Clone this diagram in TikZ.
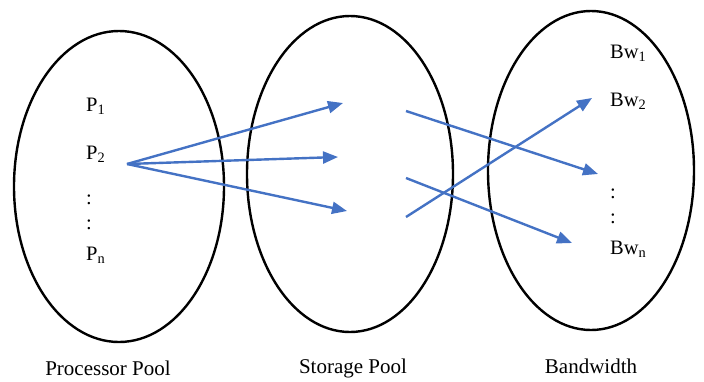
\documentclass[tikz,border=0pt]{standalone}
\usepackage{fontspec}
\setmainfont{Liberation Serif}
\usetikzlibrary{arrows.meta,shapes.geometric}
\definecolor{arrowblue}{RGB}{68,114,196}
\begin{document}
\begin{tikzpicture}[x=1pt,y=-1pt,
  pool/.style={draw=black,line width=2.4pt,ellipse,inner sep=0pt},
  lbl/.style={font=\fontsize{20.5}{24}\selectfont,inner sep=0pt,anchor=west},
  captext/.style={font=\fontsize{21}{24}\selectfont,inner sep=0pt,anchor=base},
  link/.style={draw=arrowblue,line width=2.4pt},
  linkarrow/.style={link,-{Triangle[length=15pt,width=12pt]}}]
\useasboundingbox (0,0) rectangle (704,381);
% pools
\node[pool,minimum width=210pt,minimum height=311pt] (proc) at (119,186.5) {};
\node[pool,minimum width=206pt,minimum height=316pt] (stor) at (350,174) {};
\node[pool,minimum width=206pt,minimum height=319pt] (band) at (591,170.5) {};
% processor labels
\node[lbl] (p1) at (86,106) {P\textsubscript{1}};
\node[lbl] (p2) at (86,154) {P\textsubscript{2}};
\node[lbl] (pd1) at (86,200) {:};
\node[lbl] (pd2) at (86,225) {:};
\node[lbl] (pn) at (86,255) {P\textsubscript{n}};
% bandwidth labels
\node[lbl] (b1) at (610,53) {Bw\textsubscript{1}};
\node[lbl] (b2) at (610,101) {Bw\textsubscript{2}};
\node[lbl] (bd1) at (610,194) {:};
\node[lbl] (bd2) at (610,219) {:};
\node[lbl] (bn) at (610,249) {Bw\textsubscript{n}};
% captions
\node[captext] (cproc) at (108,375) {Processor Pool};
\node[captext] (cstor) at (353,373) {Storage Pool};
\node[captext] (cband) at (591,373) {Bandwidth};
% connector points
\coordinate (src) at (127,164);
\coordinate (s1) at (343,103);
\coordinate (s2) at (338,157);
\coordinate (s3) at (347,211);
\coordinate (o1) at (406,111);
\coordinate (o2) at (406,178);
\coordinate (o3) at (406,217);
\coordinate (t1) at (598,174);
\coordinate (t2) at (572,243);
\coordinate (t3) at (592,98);
% connectors
\draw[linkarrow] (src) -- (s1);
\draw[linkarrow] (src) -- (s2);
\draw[linkarrow] (src) -- (s3);
\draw[linkarrow] (o1) -- (t1);
\draw[linkarrow] (o2) -- (t2);
\draw[linkarrow] (o3) -- (t3);
\end{tikzpicture}
\end{document}
